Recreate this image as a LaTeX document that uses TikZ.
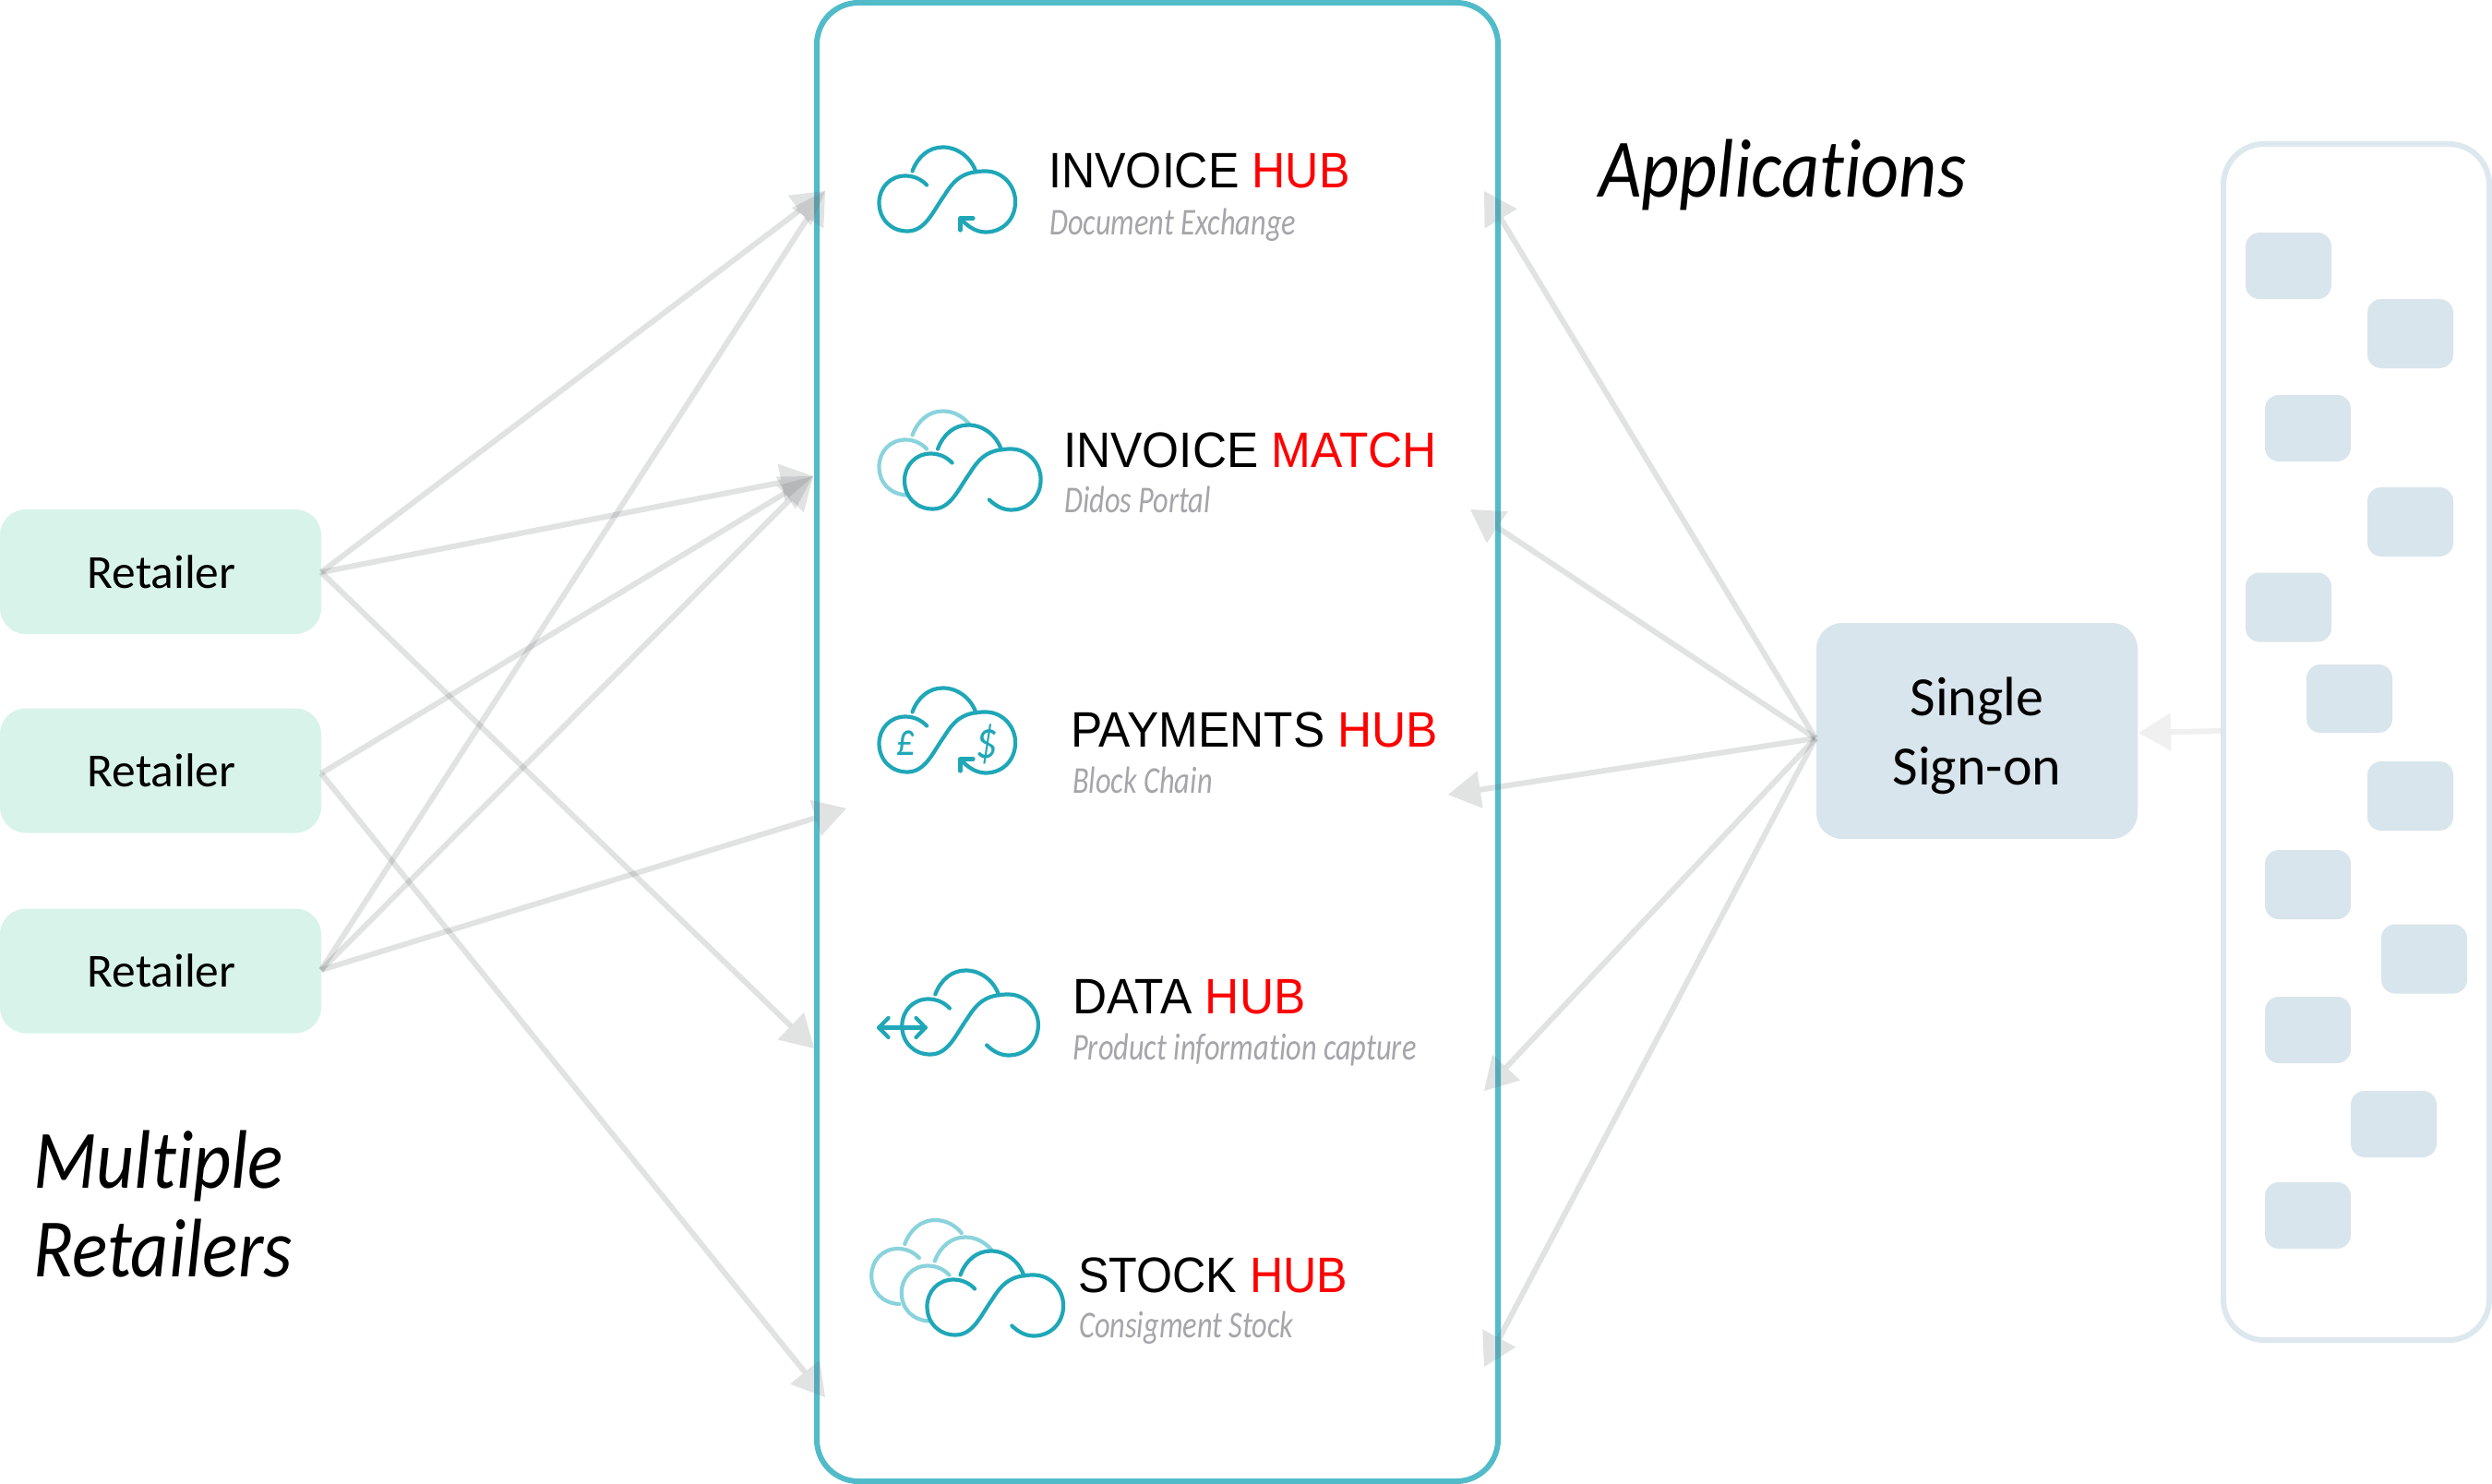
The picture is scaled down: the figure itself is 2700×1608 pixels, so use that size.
\documentclass[tikz,border=0pt]{standalone}
\usepackage{fontspec}
\setmainfont[Ligatures=NoCommon]{Carlito}
\newfontfamily\titlefont[FakeStretch=0.93]{Liberation Sans}
\newfontfamily\titlewide[FakeStretch=0.952]{Liberation Sans}
\newfontfamily\subfont[FakeStretch=0.79,Ligatures=NoCommon]{Carlito}
\newfontfamily\bigfont[FakeStretch=0.89,Ligatures=NoCommon]{Carlito}
\usetikzlibrary{arrows.meta}
\definecolor{hubteal}{HTML}{52BBCA}
\definecolor{iconteal}{HTML}{1FA7B8}
\definecolor{iconfade}{HTML}{8AD3DC}
\definecolor{retfill}{HTML}{D8F3EA}
\definecolor{ssofill}{HTML}{D9E5EC}
\definecolor{panelline}{HTML}{DCE8EE}
\definecolor{subgrey}{HTML}{A5A5AA}
\definecolor{linkgrey}{HTML}{6D6E71}
\tikzset{
 box/.style={rounded corners=#1,inner sep=0pt,outer sep=0pt,text=black},
 retailer/.style={box=28pt,fill=retfill,minimum width=348pt,minimum height=135pt,font=\fontsize{51.5}{60}\selectfont},
 ssobox/.style={box=28pt,fill=ssofill,minimum width=348pt,minimum height=234pt},
 ssotext/.style={inner sep=0pt,align=center,font=\fontsize{60}{75}\selectfont},
 hubbox/.style={box=45pt,draw=hubteal,line width=6pt,minimum width=738pt,minimum height=1602pt},
 panelbox/.style={box=44pt,draw=panelline,line width=6pt,minimum width=288pt,minimum height=1296pt},
 appbox/.style={box=15pt,fill=ssofill,minimum width=93pt,minimum height=73pt},
 bigtext/.style={inner sep=0pt,anchor=base west,font=\bigfont\fontsize{90}{96}\selectfont\itshape},
 title/.style={inner sep=0pt,anchor=base west,font=\titlefont\fontsize{54}{60}\selectfont},
 titlew/.style={inner sep=0pt,anchor=base west,font=\titlewide\fontsize{54}{60}\selectfont},
 subtitle/.style={inner sep=0pt,anchor=base west,text=subgrey,font=\subfont\fontsize{41}{46}\selectfont\itshape},
 glyph/.style={inner sep=0pt,text=iconteal,font=\subfont\fontsize{#1}{60}\selectfont\itshape},
 link/.style={line width=6pt,color=linkgrey,opacity=.2,-{Triangle[length=35pt,width=41pt,line width=0pt]}},
 faintlink/.style={link,opacity=.1},
 icon/.style={line width=4.2pt,iconteal,line cap=round,line join=round},
 cloudfront/.pic={
  \draw[icon] (36,26) .. controls (42,10) and (54,0) .. (69,0) .. controls (86,0) and (100,12) .. (105,27);
  \draw[icon] (51.6,41) .. controls (46,35) and (38,31) .. (28.4,31) .. controls (12,31) and (0,44) .. (0,60)
    .. controls (0,78) and (13,91) .. (30.6,91) .. controls (50,91) and (58,70) .. (70.8,52)
    .. controls (82,34) and (92,26) .. (115.4,26) .. controls (134,26) and (147.6,42) .. (147.6,59)
    .. controls (147.6,78) and (134,92) .. (115.4,92) .. controls (106,92) and (98,87) .. (91.8,81);
 },
 cloudback/.pic={
  \draw[icon,iconfade] (36,26) .. controls (42,10) and (54,0) .. (69,0) .. controls (80,0) and (90,5) .. (97.6,14);
  \draw[icon,iconfade] (51.6,41) .. controls (46,35) and (38,31) .. (28.4,31) .. controls (12,31) and (0,44) .. (0,60)
    .. controls (0,78) and (12,90) .. (30,91);
 },
 returnhead/.pic={
  \draw[icon] (102,77) -- (88,77) -- (88,90);
 }
}
\begin{document}
\begin{tikzpicture}[x=1pt,y=-1pt]
\useasboundingbox (0,0) rectangle (2700,1608);
\fill[white] (0,0) rectangle (2700,1608);

% boxes
\node[retailer] (r1) at (174,619.5) {\hspace*{2pt}Retailer};
\node[retailer] (r2) at (174,835) {\hspace*{2pt}Retailer};
\node[retailer] (r3) at (174,1052) {\hspace*{2pt}Retailer};
\node[ssobox] (sso) at (2142,792) {};
\node[ssotext] (ssolabel) at (2142,797) {Single\\Sign-on};
\node[hubbox] (hub) at (1254,804) {};
\node[panelbox] (panel) at (2553,804) {};
\node[appbox,minimum height=72pt] (a1) at (2479.5,288) {};
\node[appbox,minimum height=75pt] (a2) at (2611.5,361.5) {};
\node[appbox,minimum height=72pt] (a3) at (2500.5,464) {};
\node[appbox,minimum height=75pt] (a4) at (2611.5,565.5) {};
\node[appbox,minimum height=75pt] (a5) at (2479.5,658) {};
\node[appbox,minimum height=74pt] (a6) at (2545.5,757) {};
\node[appbox,minimum height=75pt] (a7) at (2611.5,862.5) {};
\node[appbox,minimum height=75pt] (a8) at (2500.5,958.5) {};
\node[appbox,minimum height=75pt] (a9) at (2626.5,1039) {};
\node[appbox,minimum height=72pt] (a10) at (2500.5,1116) {};
\node[appbox,minimum height=72pt] (a11) at (2593.5,1218) {};
\node[appbox,minimum height=72pt] (a12) at (2500.5,1317) {};

% headings
\node[bigtext] (apps) at (1732,214) {Applications};
\node[bigtext] (multi) at (36,1287) {Multiple};
\node[bigtext] (rets) at (36,1383) {Retailers};

% hub entries
\node[title] (t1) at (1136,204) {INVOICE \textcolor{red}{HUB}};
\node[subtitle] (s1) at (1137,254) {Document Exchange};
\node[titlew] (t2) at (1152,506) {INVOICE \textcolor{red}{MATCH}};
\node[subtitle] (s2) at (1153,555) {Didos Portal};
\node[titlew] (t3) at (1160,809) {PAYMENTS \textcolor{red}{HUB}};
\node[subtitle] (s3) at (1162,859) {Block Chain};
\node[titlew] (t4) at (1162,1098) {DATA \textcolor{red}{HUB}};
\node[subtitle] (s4) at (1162,1148) {Product information capture};
\node[title] (t5) at (1168,1400) {STOCK \textcolor{red}{HUB}};
\node[subtitle] (s5) at (1169,1449) {Consigment Stock};

% icons
\pic at (952.5,159.5) {cloudfront};
\pic at (952.5,159.5) {returnhead};

\pic at (952.5,445.5) {cloudback};
\pic at (980,460.5) {cloudfront};

\pic at (952.5,745.5) {cloudfront};
\pic at (952.5,745.5) {returnhead};
\node[glyph=50] (pound) at (981.7,805) {£};
\node[glyph=58] (dollar) at (1068.8,806) {\$};

\pic at (977.3,1051.5) {cloudfront};
\draw[icon] (962.5,1103) -- (952.2,1113.5) -- (962.5,1124);
\draw[icon] (992.5,1103) -- (1002.7,1113.5) -- (992.5,1124);
\draw[icon] (952.2,1113.5) -- (1002.7,1113.5);

\pic at (944.25,1322) {cloudback};
\pic at (976.8,1340.5) {cloudback};
\pic at (1004.5,1355.5) {cloudfront};

% connector ends
\coordinate (r1p) at (348,620);
\coordinate (r2p) at (348,838);
\coordinate (r3p) at (348,1051);
\coordinate (ssop) at (1967,800);
\coordinate (l1) at (894,207);
\coordinate (l2) at (881,516);
\coordinate (l3) at (917,876);
\coordinate (l4) at (882,1136);
\coordinate (l5) at (894,1514);
\coordinate (e1) at (1608,207);
\coordinate (e2) at (1593,552);
\coordinate (e3) at (1569,861);
\coordinate (e4) at (1608,1182);
\coordinate (e5) at (1608,1481);
\coordinate (ssoin) at (2317,794);
\coordinate (panelout) at (2406,792);

\draw[link] (r1p) -- (l1);
\draw[link] (r1p) -- (l2);
\draw[link] (r1p) -- (l4);
\draw[link] (r2p) -- (l2);
\draw[link] (r2p) -- (l5);
\draw[link] (r3p) -- (l1);
\draw[link] (r3p) -- (l2);
\draw[link] (r3p) -- (l3);
\draw[link] (ssop) -- (e1);
\draw[link] (ssop) -- (e2);
\draw[link] (ssop) -- (e3);
\draw[link] (ssop) -- (e4);
\draw[link] (ssop) -- (e5);
\draw[faintlink] (panelout) -- (ssoin);
\end{tikzpicture}
\end{document}
